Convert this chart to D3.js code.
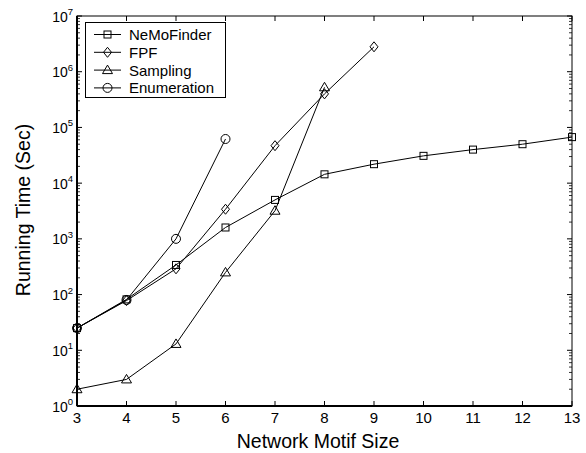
<!DOCTYPE html>
<html>
<head>
<meta charset="utf-8">
<script src="https://cdn.jsdelivr.net/npm/d3@7"></script>
<style>
  body { margin: 0; background: #fff; }
  svg { font-family: "Liberation Sans", Arial, sans-serif; }
</style>
</head>
<body>
<div id="chart"></div>
<script>
// motif sizes per series
var sizesNemo = [3, 4, 5, 6, 7, 8, 9, 10, 11, 12, 13];
var nemoFinder = [25, 82, 340, 1600, 5000, 14400, 21900, 30900, 40000, 50000, 67000];
var sizesFpf = [3, 4, 5, 6, 7, 8, 9];
var fpf = [25, 78, 290, 3400, 47000, 400000, 2800000];
var sizesSampling = [3, 4, 5, 6, 7, 8];
var sampling = [2.0, 3.0, 13, 250, 3200, 525000];
var sizesEnum = [3, 4, 5, 6];
var enumeration = [25, 80, 1000, 62000];

var xTicks = [3, 4, 5, 6, 7, 8, 9, 10, 11, 12, 13];
var yPowers = [0, 1, 2, 3, 4, 5, 6, 7];

var width = 586, height = 453;
var pLeft = 77, pRight = 572, pTop = 16, pBottom = 406;

var series = [
  {name: "NeMoFinder", xs: sizesNemo, ys: nemoFinder, marker: "square"},
  {name: "FPF", xs: sizesFpf, ys: fpf, marker: "diamond"},
  {name: "Sampling", xs: sizesSampling, ys: sampling, marker: "triangle"},
  {name: "Enumeration", xs: sizesEnum, ys: enumeration, marker: "circle"}
];

var svg = d3.select("#chart").append("svg")
  .attr("width", width)
  .attr("height", height);

var x = d3.scaleLinear().domain([3, 13]).range([pLeft, pRight]);
var y = d3.scaleLog().domain([1, 1e7]).range([pBottom, pTop]);

// minor log ticks
var minor = [];
yPowers.slice(0, -1).forEach(function(p) {
  for (var k = 2; k <= 9; k++) minor.push(k * Math.pow(10, p));
});

var g = svg.append("g");

// ticks (inward, both sides)
minor.forEach(function(v) {
  g.append("line").attr("x1", pLeft).attr("x2", pLeft + 3).attr("y1", y(v)).attr("y2", y(v)).attr("stroke", "#000").attr("stroke-width", 0.8);
  g.append("line").attr("x1", pRight).attr("x2", pRight - 3).attr("y1", y(v)).attr("y2", y(v)).attr("stroke", "#000").attr("stroke-width", 0.8);
});
yPowers.forEach(function(p) {
  var v = Math.pow(10, p);
  g.append("line").attr("x1", pLeft).attr("x2", pLeft + 5).attr("y1", y(v)).attr("y2", y(v)).attr("stroke", "#000");
  g.append("line").attr("x1", pRight).attr("x2", pRight - 5).attr("y1", y(v)).attr("y2", y(v)).attr("stroke", "#000");
  var t = g.append("text")
    .attr("x", 73)
    .attr("y", y(v) + 5.5)
    .attr("text-anchor", "end")
    .attr("font-size", "14px");
  t.append("tspan").text("10");
  t.append("tspan").attr("dy", -6.5).attr("font-size", "9.5px").text(p);
});
xTicks.forEach(function(v) {
  g.append("line").attr("x1", x(v)).attr("x2", x(v)).attr("y1", pBottom).attr("y2", pBottom - 5).attr("stroke", "#000");
  g.append("line").attr("x1", x(v)).attr("x2", x(v)).attr("y1", pTop).attr("y2", pTop + 5).attr("stroke", "#000");
  g.append("text")
    .attr("x", x(v))
    .attr("y", 423)
    .attr("text-anchor", "middle")
    .attr("font-size", "15px")
    .text(v);
});

// frame
g.append("rect").attr("x", pLeft).attr("y", pTop).attr("width", pRight - pLeft).attr("height", pBottom - pTop)
  .attr("fill", "none").attr("stroke", "#000").attr("stroke-width", 1);
g.append("line").attr("x1", pLeft).attr("x2", pLeft).attr("y1", pTop).attr("y2", pBottom).attr("stroke", "#000").attr("stroke-width", 2);
g.append("line").attr("x1", pLeft).attr("x2", pRight).attr("y1", pBottom).attr("y2", pBottom).attr("stroke", "#000").attr("stroke-width", 2);

// axis titles
svg.append("text")
  .attr("x", 318)
  .attr("y", 447.5)
  .attr("text-anchor", "middle")
  .attr("font-size", "19.5px")
  .text("Network Motif Size");
svg.append("text")
  .attr("transform", "translate(29.5,210) rotate(-90)")
  .attr("text-anchor", "middle")
  .attr("font-size", "19.5px")
  .text("Running Time (Sec)");

function drawMarker(sel, type, cx, cy) {
  if (type == "square") {
    sel.append("rect").attr("x", cx - 3.5).attr("y", cy - 3.5).attr("width", 7).attr("height", 7)
      .attr("fill", "none").attr("stroke", "#000");
  } else if (type == "diamond") {
    sel.append("path").attr("d", "M" + cx + "," + (cy - 5) + "L" + (cx + 4) + "," + cy + "L" + cx + "," + (cy + 5) + "L" + (cx - 4) + "," + cy + "Z")
      .attr("fill", "none").attr("stroke", "#000");
  } else if (type == "triangle") {
    sel.append("path").attr("d", "M" + cx + "," + (cy - 5) + "L" + (cx + 5) + "," + (cy + 3.5) + "L" + (cx - 5) + "," + (cy + 3.5) + "Z")
      .attr("fill", "none").attr("stroke", "#000");
  } else {
    sel.append("circle").attr("cx", cx).attr("cy", cy).attr("r", 4.5)
      .attr("fill", "none").attr("stroke", "#000");
  }
}

var line = d3.line()
  .x(function(d) { return x(d[0]); })
  .y(function(d) { return y(d[1]); });

var plot = svg.append("g");
series.forEach(function(s) {
  var pts = s.xs.map(function(v, i) { return [v, s.ys[i]]; });
  plot.append("path")
    .attr("d", line(pts))
    .attr("fill", "none")
    .attr("stroke", "#000")
    .attr("stroke-width", 1);
  pts.forEach(function(p) {
    drawMarker(plot, s.marker, x(p[0]), y(p[1]));
  });
});

// legend
var lg = svg.append("g");
lg.append("rect").attr("x", 85.5).attr("y", 22.5).attr("width", 140).attr("height", 75)
  .attr("fill", "#fff").attr("stroke", "#000");
series.forEach(function(s, i) {
  var ly = 34.5 + i * 17.8;
  lg.append("line").attr("x1", 94).attr("x2", 121).attr("y1", ly).attr("y2", ly).attr("stroke", "#000");
  drawMarker(lg, s.marker, 107.5, ly);
  lg.append("text")
    .attr("x", 129)
    .attr("y", ly + 5.5)
    .attr("font-size", "15px")
    .text(s.name);
});
</script>
</body>
</html>
